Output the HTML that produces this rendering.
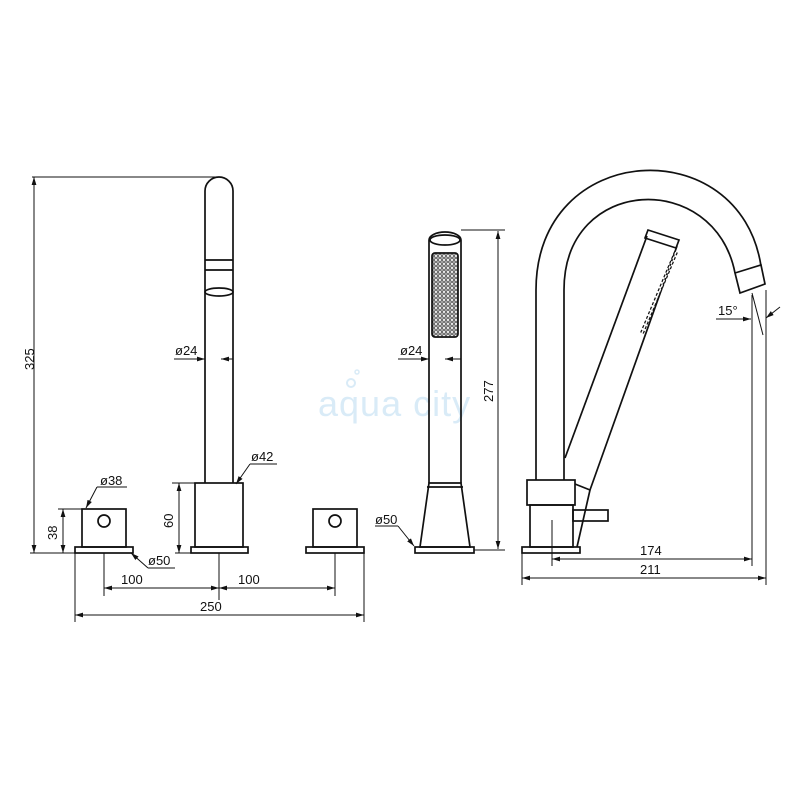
<!DOCTYPE html>
<html><head><meta charset="utf-8"><style>
html,body{margin:0;padding:0;background:#fff}
svg{display:block}
text{font-family:"Liberation Sans",Arial,sans-serif;font-size:13px;fill:#111}
</style></head><body>
<svg width="800" height="800" viewBox="0 0 800 800" xmlns="http://www.w3.org/2000/svg">
<defs>
<marker id="a" viewBox="0 0 10 10" refX="10" refY="5" markerWidth="8" markerHeight="8" orient="auto-start-reverse"><path d="M0,2 L10,5 L0,8 z" fill="#111"/></marker>
<pattern id="dots" width="4" height="4" patternUnits="userSpaceOnUse"><circle cx="2" cy="2" r="1.3" fill="none" stroke="#222" stroke-width="0.8"/></pattern>
</defs>
<!-- watermark -->
<text x="318" y="416" style="font-size:36px;fill:#d9ebf7;letter-spacing:1px">aqua city</text>
<circle cx="351" cy="383" r="4" fill="none" stroke="#d9ebf7" stroke-width="2"/>
<circle cx="357" cy="372" r="2" fill="none" stroke="#d9ebf7" stroke-width="1.5"/>

<g fill="none" stroke="#111" stroke-width="1.7">
<!-- LEFT: spout -->
<path d="M205,483 L205,191 A14,14 0 0 1 233,191 L233,483"/>
<line x1="205" y1="260" x2="233" y2="260"/>
<line x1="205" y1="270" x2="233" y2="270"/>
<ellipse cx="219" cy="292" rx="14" ry="4"/>
<rect x="195" y="483" width="48" height="64"/>
<rect x="191" y="547" width="57" height="6"/>
<!-- knobs -->
<rect x="82" y="509" width="44" height="38"/>
<circle cx="104" cy="521" r="6"/>
<rect x="75" y="547" width="58" height="6"/>
<rect x="313" y="509" width="44" height="38"/>
<circle cx="335" cy="521" r="6"/>
<rect x="306" y="547" width="58" height="6"/>
</g>
<g stroke="#111" stroke-width="1" fill="none">
<line x1="32" y1="177" x2="220" y2="177"/>
<line x1="30" y1="553" x2="75" y2="553"/>
<line x1="34" y1="177" x2="34" y2="553" marker-start="url(#a)" marker-end="url(#a)"/>
<line x1="58" y1="509" x2="82" y2="509"/>
<line x1="63" y1="509" x2="63" y2="553" marker-start="url(#a)" marker-end="url(#a)"/>
<line x1="172" y1="483" x2="195" y2="483"/>
<line x1="175" y1="553" x2="191" y2="553"/>
<line x1="179" y1="483" x2="179" y2="553" marker-start="url(#a)" marker-end="url(#a)"/>
<line x1="174" y1="359" x2="205" y2="359" marker-end="url(#a)"/>
<line x1="233" y1="359" x2="221" y2="359" marker-end="url(#a)"/>
<line x1="97" y1="487" x2="127" y2="487"/><line x1="97" y1="487" x2="86" y2="508" marker-end="url(#a)"/>
<line x1="250" y1="464" x2="277" y2="464"/><line x1="250" y1="464" x2="236" y2="484" marker-end="url(#a)"/>
<line x1="148" y1="568" x2="175" y2="568"/><line x1="148" y1="568" x2="131" y2="553" marker-end="url(#a)"/>
<line x1="104" y1="553" x2="104" y2="596"/>
<line x1="219" y1="553" x2="219" y2="600"/>
<line x1="335" y1="553" x2="335" y2="596"/>
<line x1="75" y1="553" x2="75" y2="622"/>
<line x1="364" y1="553" x2="364" y2="622"/>
<line x1="104" y1="588" x2="219" y2="588" marker-start="url(#a)" marker-end="url(#a)"/>
<line x1="219" y1="588" x2="335" y2="588" marker-start="url(#a)" marker-end="url(#a)"/>
<line x1="75" y1="615" x2="364" y2="615" marker-start="url(#a)" marker-end="url(#a)"/>
</g>
<text x="100" y="485">ø38</text>
<text x="251" y="461">ø42</text>
<text x="175" y="355">ø24</text>
<text x="148" y="565">ø50</text>
<text x="121" y="584">100</text>
<text x="238" y="584">100</text>
<text x="200" y="611">250</text>
<text transform="translate(34,370) rotate(-90)">325</text>
<text transform="translate(57,540) rotate(-90)">38</text>
<text transform="translate(173,528) rotate(-90)">60</text>

<!-- HAND SHOWER -->
<g fill="none" stroke="#111" stroke-width="1.7">
<path d="M429,483 L429,240 A16,8 0 0 1 461,240 L461,483"/>
<ellipse cx="445" cy="240" rx="15" ry="5"/>
<rect x="432" y="253" width="26" height="84" rx="3" fill="url(#dots)"/>
<path d="M429,483 L461,483 L470,547 L420,547 Z"/>
<line x1="427" y1="487" x2="463" y2="487"/>
<rect x="415" y="547" width="59" height="6"/>
</g>
<g stroke="#111" stroke-width="1" fill="none">
<line x1="461" y1="230" x2="505" y2="230"/>
<line x1="474" y1="550" x2="505" y2="550"/>
<line x1="498" y1="231" x2="498" y2="549" marker-start="url(#a)" marker-end="url(#a)"/>
<line x1="398" y1="359" x2="429" y2="359" marker-end="url(#a)"/>
<line x1="461" y1="359" x2="445" y2="359" marker-end="url(#a)"/>
<line x1="375" y1="526" x2="398" y2="526"/><line x1="398" y1="526" x2="414" y2="546" marker-end="url(#a)"/>
</g>
<text x="400" y="355">ø24</text>
<text x="375" y="524">ø50</text>
<text transform="translate(493,402) rotate(-90)">277</text>

<!-- SPOUT RIGHT -->
<g fill="none" stroke="#111" stroke-width="1.7">
<path d="M536,480 L536,290 C536,140 740,130 761,266"/>
<path d="M564,480 L564,290 C564,175 715,170 735,273"/>
<path d="M735,273 L761,265 L765,284 L740,293 Z"/>
<rect x="527" y="480" width="48" height="25"/>
<rect x="530" y="505" width="43" height="42"/>
<rect x="522" y="547" width="58" height="6"/>
<rect x="573" y="510" width="35" height="11"/>
<path d="M648,230 L679,240 L676,248 L645,238 Z"/>
<line x1="647" y1="236" x2="565" y2="458"/>
<line x1="677" y1="246" x2="590" y2="490"/>
<path d="M575,484 L590,490 L577,547"/>
</g>
<path d="M676,252 L642,333" stroke="#111" stroke-width="4" stroke-dasharray="3,2" fill="none"/>
<path d="M676,252 L642,333" stroke="#fff" stroke-width="1.5" stroke-dasharray="3,2" fill="none"/>
<g stroke="#111" stroke-width="1" fill="none">
<line x1="752" y1="295" x2="752" y2="566"/>
<line x1="766" y1="290" x2="766" y2="585"/>
<line x1="752" y1="293" x2="763" y2="335"/>
<line x1="716" y1="319" x2="751" y2="319" marker-end="url(#a)"/>
<line x1="780" y1="307" x2="766" y2="318" marker-end="url(#a)"/>
<line x1="552" y1="520" x2="552" y2="566"/>
<line x1="522" y1="553" x2="522" y2="585"/>
<line x1="552" y1="559" x2="752" y2="559" marker-start="url(#a)" marker-end="url(#a)"/>
<line x1="522" y1="578" x2="766" y2="578" marker-start="url(#a)" marker-end="url(#a)"/>
</g>
<text x="718" y="315">15°</text>
<text x="640" y="555">174</text>
<text x="640" y="574">211</text>
</svg>
</body></html>
